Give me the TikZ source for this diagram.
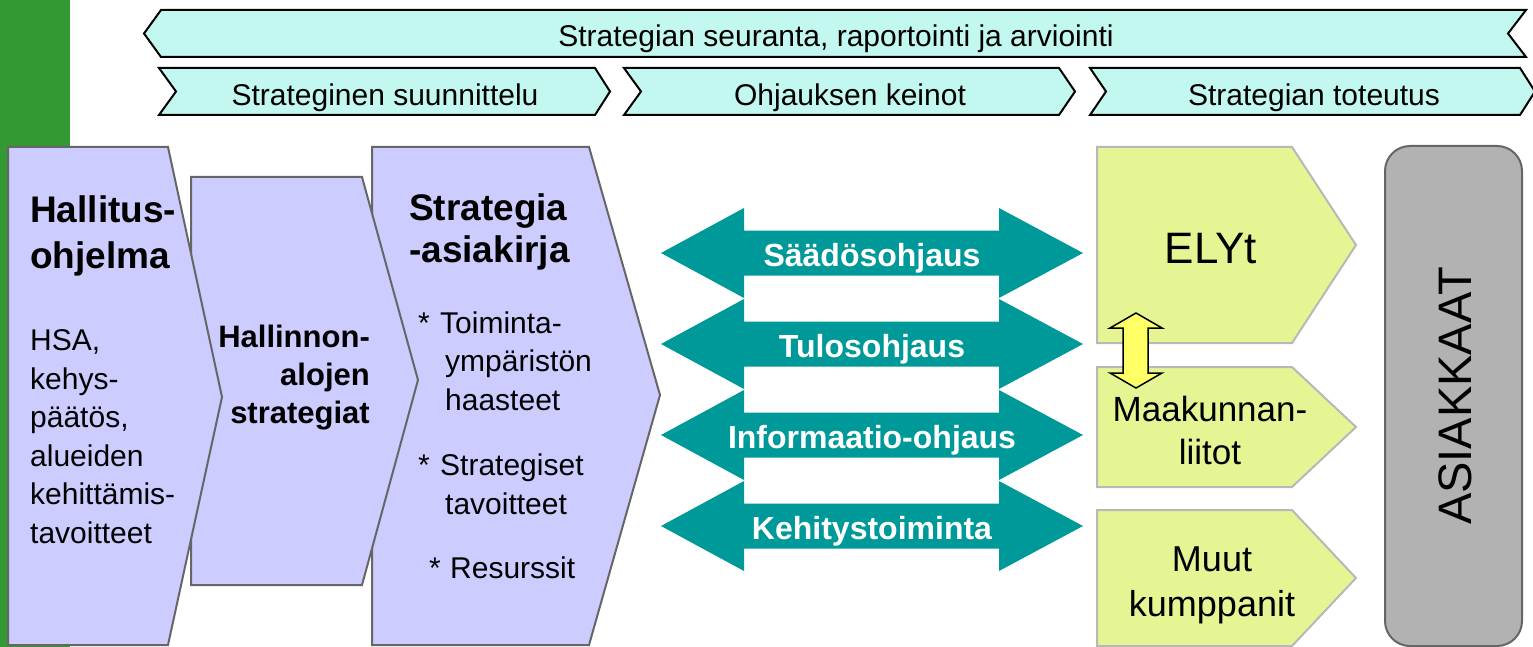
\documentclass[tikz,border=0pt]{standalone}
\usepackage{fontspec}
\setmainfont{Liberation Sans}
\definecolor{bandc}{HTML}{C2F8EF}
\definecolor{purp}{HTML}{CCCCFF}
\definecolor{chevline}{HTML}{666666}
\definecolor{greenc}{HTML}{339933}
\definecolor{tealc}{HTML}{009999}
\definecolor{limec}{HTML}{E6F593}
\definecolor{limeline}{HTML}{B8B8B8}
\definecolor{asgray}{HTML}{B2B2B2}
\definecolor{yellowc}{HTML}{FFFF66}
\begin{document}
\begin{tikzpicture}[x=1pt,y=-1pt,
  band/.style={draw=black, line width=2pt, fill=bandc, line join=miter},
  bandtxt/.style={anchor=base, inner sep=0pt, font=\fontsize{30}{36}\selectfont},
  chev/.style={draw=chevline, line width=2pt, fill=purp, line join=miter},
  lime/.style={draw=limeline, line width=2pt, fill=limec, line join=miter},
  boldtxt/.style={inner sep=0pt, font=\fontsize{37}{46}\selectfont\bfseries},
  normtxt/.style={inner sep=0pt, font=\fontsize{30}{38.5}\selectfont},
  arrtxt/.style={anchor=base, inner sep=0pt, text=white, font=\fontsize{32}{38}\selectfont\bfseries},
  limetxt/.style={anchor=base, inner sep=0pt, align=center, font=\fontsize{35}{43}\selectfont}]
\useasboundingbox (0,0) rectangle (1533,647);
% green side bar
\fill[greenc] (0,0) rectangle (70,647);
% top band
\draw[band] (161,10) -- (1526,10) -- (1508,33.5) -- (1526,57) -- (161,57) -- (144,33.5) -- cycle;
\node[bandtxt] (seuranta) at (836,47) {Strategian seuranta, raportointi ja arviointi};
% second row chevrons
\draw[band] (159,68) -- (595,68) -- (610,91.5) -- (595,115) -- (159,115) -- (176,91.5) -- cycle;
\draw[band] (624,68) -- (1059,68) -- (1075,91.5) -- (1059,115) -- (624,115) -- (641,91.5) -- cycle;
\draw[band] (1090,68) -- (1520,68) -- (1535,91.5) -- (1520,115) -- (1090,115) -- (1106,91.5) -- cycle;
\node[bandtxt] (suunn) at (385,106) {Strateginen suunnittelu};
\node[bandtxt] (keinot) at (850,106) {Ohjauksen keinot};
\node[bandtxt] (toteutus) at (1314,106) {Strategian toteutus};
% purple chevrons
\draw[chev] (372,147) -- (589,147) -- (660,395) -- (589,645) -- (372,645) -- cycle;
\draw[chev] (191,177) -- (362,177) -- (418,380) -- (362,585) -- (191,585) -- cycle;
\draw[chev] (8,147) -- (168,147) -- (222,397) -- (168,645) -- (8,645) -- cycle;
% Hallitusohjelma (base anchor = last line)
\node[boldtxt, anchor=base west, align=left] (hallitus) at (30,268) {Hallitus-\\ohjelma};
\node[normtxt, anchor=base west, align=left] (hsa) at (30,543) {HSA,\\kehys-\\päätös,\\alueiden\\kehittämis-\\tavoitteet};
% Hallinnonalojen strategiat
\node[boldtxt, font=\fontsize{31}{38}\selectfont\bfseries, anchor=base east, align=right] (hallinnon) at (370,423) {Hallinnon-\\alojen\\strategiat};
% Strategia-asiakirja
\node[boldtxt, font=\fontsize{37}{42}\selectfont\bfseries, anchor=base west, align=left] (strategia) at (409,262) {Strategia\\-asiakirja};
\node[normtxt, anchor=base west] (b1) at (418,333) {*};
\node[normtxt, anchor=base west] (b1t) at (440,333) {Toiminta-};
\node[normtxt, anchor=base west, align=left] (b1u) at (445,410) {ympäristön\\haasteet};
\node[normtxt, anchor=base west] (b2) at (418,475) {*};
\node[normtxt, anchor=base west] (b2t) at (440,475) {Strategiset};
\node[normtxt, anchor=base west] (b2u) at (445,514) {tavoitteet};
\node[normtxt, anchor=base west] (b3) at (429,578) {*};
\node[normtxt, anchor=base west] (b3t) at (450,578) {Resurssit};
% teal double arrows
\foreach \c/\t/\n in {253/Säädösohjaus/ar1, 344/Tulosohjaus/ar2, 435/Informaatio-ohjaus/ar3, 526/Kehitystoiminta/ar4}{
  \fill[tealc] (661,\c) -- (744,\c-45) -- (744,\c-22.5) -- (999,\c-22.5) -- (999,\c-45) -- (1083,\c)
     -- (999,\c+45) -- (999,\c+22.5) -- (744,\c+22.5) -- (744,\c+45) -- cycle;
  \node[arrtxt] (\n) at (872,\c+13.5) {\t};
}
% lime boxes
\draw[lime] (1097,147) -- (1292,147) -- (1356,245) -- (1292,343) -- (1097,343) -- cycle;
\draw[lime] (1097,367) -- (1292,367) -- (1356,427) -- (1292,487) -- (1097,487) -- cycle;
\draw[lime] (1097,510) -- (1292,510) -- (1356,578) -- (1292,646) -- (1097,646) -- cycle;
\node[limetxt, font=\fontsize{44}{50}\selectfont] (ely) at (1211,263) {ELYt};
\node[limetxt] (maak) at (1210,464) {Maakunnan-\\liitot};
\node[limetxt, font=\fontsize{36}{45}\selectfont] (muut) at (1212,616) {Muut\\kumppanit};
% yellow double arrow
\draw[fill=yellowc, draw=black, line width=1.5pt, line join=miter]
  (1136,313) -- (1162,328) -- (1148,328) -- (1148,373) -- (1162,373) -- (1136,388)
  -- (1110,373) -- (1123,373) -- (1123,328) -- (1110,328) -- cycle;
% Asiakkaat
\draw[draw=chevline, line width=2pt, fill=asgray, rounded corners=25pt] (1385,146) rectangle (1522,646);
\node[inner sep=0pt, rotate=90, font=\fontsize{47}{50}\selectfont] (asiakkaat) at (1455,396) {ASIAKKAAT};
\end{tikzpicture}
\end{document}
